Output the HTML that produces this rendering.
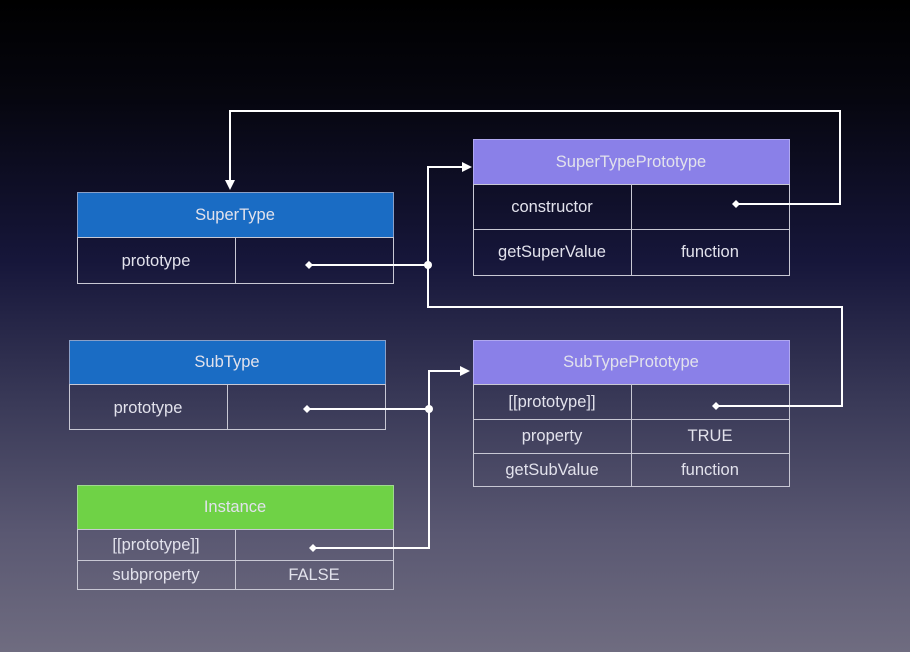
<!DOCTYPE html>
<html><head><meta charset="utf-8"><style>
html,body{margin:0;padding:0;width:910px;height:652px;overflow:hidden}
body{background:linear-gradient(to bottom,#000 0%,#06060f 15%,#16163a 40%,#3a3a58 62%,#5a5872 82%,#6f6c80 100%)}
svg{display:block}
text{font-family:"Liberation Sans",sans-serif;font-size:16.5px;fill:#e2e2ec;text-anchor:middle;dominant-baseline:central}
</style></head><body>
<svg width="910" height="652" viewBox="0 0 910 652">
<defs>
<marker id="a" markerWidth="10" markerHeight="10" refX="8" refY="5" orient="auto-start-reverse" markerUnits="userSpaceOnUse"><path d="M0,0 L10,5 L0,10 z" fill="#fff"/></marker>
</defs>
<g stroke="#c8c8d4" stroke-width="1" fill="none">
<rect x="77.5" y="192.5" width="316" height="45" fill="#1a6cc4" stroke="#8aa0c8"/>
<rect x="77.5" y="237.5" width="316" height="46"/>
<line x1="235.5" y1="237.5" x2="235.5" y2="283.5"/>
<rect x="69.5" y="340.5" width="316" height="44" fill="#1a6cc4" stroke="#8aa0c8"/>
<rect x="69.5" y="384.5" width="316" height="45"/>
<line x1="227.5" y1="384.5" x2="227.5" y2="429.5"/>
<rect x="77.5" y="485.5" width="316" height="44" fill="#6fd246" stroke="#a0d890"/>
<rect x="77.5" y="529.5" width="316" height="60"/>
<line x1="77.5" y1="560.5" x2="393.5" y2="560.5"/>
<line x1="235.5" y1="529.5" x2="235.5" y2="589.5"/>
<rect x="473.5" y="139.5" width="316" height="45" fill="#8a80e8" stroke="#b0a8f0"/>
<rect x="473.5" y="184.5" width="316" height="91"/>
<line x1="473.5" y1="229.5" x2="789.5" y2="229.5"/>
<line x1="631.5" y1="184.5" x2="631.5" y2="275.5"/>
<rect x="473.5" y="340.5" width="316" height="44" fill="#8a80e8" stroke="#b0a8f0"/>
<rect x="473.5" y="384.5" width="316" height="102"/>
<line x1="473.5" y1="419.5" x2="789.5" y2="419.5"/>
<line x1="473.5" y1="453.5" x2="789.5" y2="453.5"/>
<line x1="631.5" y1="384.5" x2="631.5" y2="486.5"/>
</g>
<text x="235" y="215">SuperType</text>
<text x="156" y="261">prototype</text>
<text x="227" y="362">SubType</text>
<text x="148" y="408">prototype</text>
<text x="235" y="507">Instance</text>
<text x="156" y="545">[[prototype]]</text>
<text x="156" y="575">subproperty</text>
<text x="314" y="575">FALSE</text>
<text x="631" y="162">SuperTypePrototype</text>
<text x="552" y="207">constructor</text>
<text x="552" y="252">getSuperValue</text>
<text x="710" y="252">function</text>
<text x="631" y="362">SubTypePrototype</text>
<text x="552" y="402">[[prototype]]</text>
<text x="552" y="436">property</text>
<text x="710" y="436">TRUE</text>
<text x="552" y="470">getSubValue</text>
<text x="710" y="470">function</text>
<g stroke="#fff" stroke-width="2" fill="none">
<polyline points="309,265 428,265"/>
<polyline points="470,167 428,167 428,307 842,307 842,406 716,406" marker-start="url(#a)"/>
<polyline points="736,204 840,204 840,111 230,111 230,188" marker-end="url(#a)"/>
<polyline points="307,409 429,409"/>
<polyline points="468,371 429,371 429,548 313,548" marker-start="url(#a)"/>
</g>
<g fill="#fff">
<circle cx="428" cy="265" r="4"/><circle cx="429" cy="409" r="4"/>
<path d="M309,261 l4,4 -4,4 -4,-4z"/><path d="M307,405 l4,4 -4,4 -4,-4z"/>
<path d="M313,544 l4,4 -4,4 -4,-4z"/><path d="M716,402 l4,4 -4,4 -4,-4z"/>
<path d="M736,200 l4,4 -4,4 -4,-4z"/>
</g>
</svg>
</body></html>
